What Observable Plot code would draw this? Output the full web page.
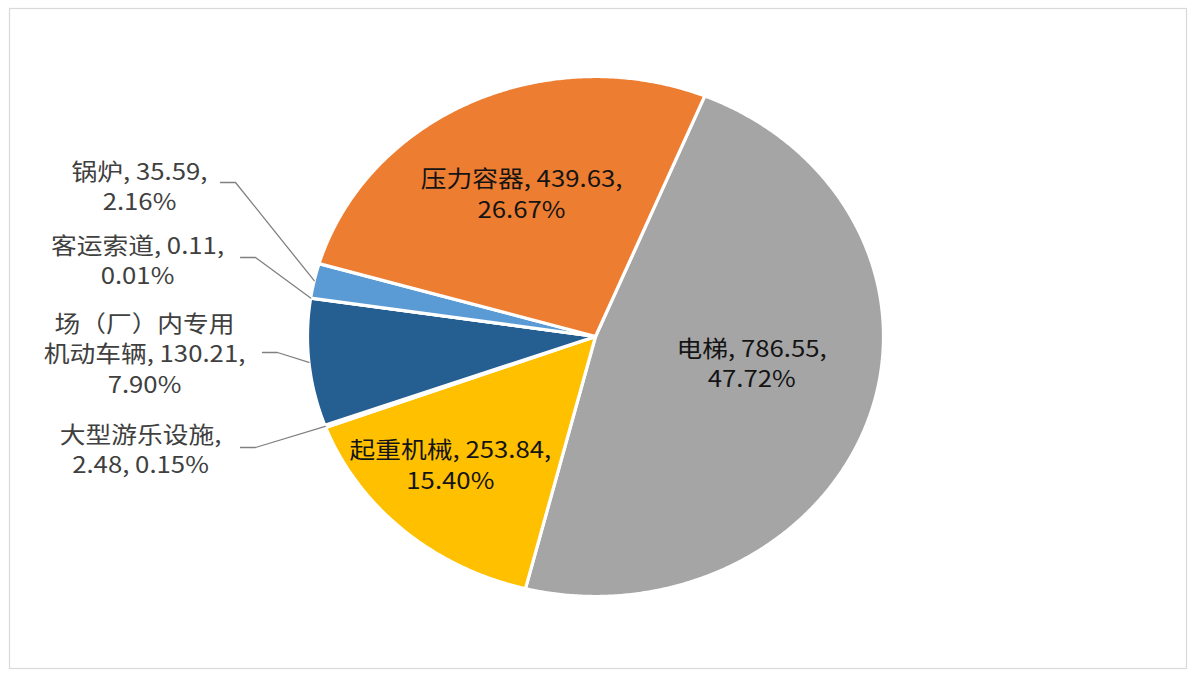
<!DOCTYPE html>
<html>
<head>
<meta charset="utf-8">
<script src="https://cdn.jsdelivr.net/npm/d3@7"></script>
<script src="https://cdn.jsdelivr.net/npm/@observablehq/plot@0.6"></script>
<style>
  body { margin: 0; background: #ffffff; }
  #chart { width: 1194px; height: 676px; }
</style>
</head>
<body>
<div id="chart"></div>
<script>
// ---- data ----
const categories = ["电梯", "起重机械", "大型游乐设施", "场（厂）内专用机动车辆", "客运索道", "锅炉", "压力容器"];
const values = [786.55, 253.84, 2.48, 130.21, 0.11, 35.59, 439.63];
const displayNames = ["电梯", "起重机械", "大型游乐设施", "场（厂）内专用\n机动车辆", "客运索道", "锅炉", "压力容器"];
const breakAfter = ["value", "value", "name", "value", "value", "value", "value"];
const sliceColors = ["#A5A5A5", "#FFC000", "#4472C4", "#255E91", "#70AD47", "#5B9BD5", "#ED7D31"];

// ---- layout ----
const W = 1194, H = 676;
const cx = 595, cy = 336, rx = 288, ry = 260;
const startDeg = 22.3;
const insideNudge = [[-8, -23], [-30, 11], null, null, null, null, [1, -3]];
const outsideLayout = [null, null,
  {tx: 140, ty: 448, lx: 240, ly: 447},
  {tx: 144, ty: 352, lx: 262, ly: 352},
  {tx: 137, ty: 259, lx: 240, ly: 257},
  {tx: 139, ty: 185, lx: 220, ly: 182},
  null];

const ux = px => (px - cx) / rx;
const uy = py => (cy - py) / ry;

const total = d3.sum(values);
const fmtV = d3.format(".2f");
const fmtP = d3.format(".2%");

const start = startDeg * Math.PI / 180;
const arcs = d3.pie().sort(null).value(d => d).startAngle(start).endAngle(start + 2 * Math.PI)(values);

// slice polygons in unit-circle coordinates (scales map them to the ellipse)
const slicePts = [];
arcs.forEach((a, i) => {
  const name = categories[i];
  const n = Math.max(2, Math.ceil((a.endAngle - a.startAngle) / (0.4 * Math.PI / 180)));
  slicePts.push({name, x: 0, y: 0});
  for (let k = 0; k <= n; k++) {
    const t = a.startAngle + (a.endAngle - a.startAngle) * k / n;
    slicePts.push({name, x: Math.sin(t), y: Math.cos(t)});
  }
  slicePts.push({name, x: 0, y: 0});
});

function labelText(i) {
  const v = fmtV(values[i]);
  const p = fmtP(values[i] / total);
  const nm = displayNames[i];
  return breakAfter[i] === "name" ? `${nm},\n${v}, ${p}` : `${nm}, ${v},\n${p}`;
}

const insideLabels = [];
const outsideLabels = [];
const leaders = [];
arcs.forEach((a, i) => {
  const mid = (a.startAngle + a.endAngle) / 2;
  if (insideNudge[i]) {
    const f = 0.6;
    const [dx, dy] = insideNudge[i];
    insideLabels.push({label: labelText(i), x: f * Math.sin(mid) + dx / rx, y: f * Math.cos(mid) - dy / ry});
  } else if (outsideLayout[i]) {
    const L = outsideLayout[i];
    outsideLabels.push({label: labelText(i), x: ux(L.tx), y: uy(L.ty)});
    leaders.push({name: categories[i], x: ux(L.lx), y: uy(L.ly)});
    leaders.push({name: categories[i], x: ux(L.lx + 15), y: uy(L.ly)});
    leaders.push({name: categories[i], x: Math.sin(mid), y: Math.cos(mid)});
  }
});

const font = "'Noto Sans CJK SC', 'Noto Sans', sans-serif";

const chart = Plot.plot({
  width: W,
  height: H,
  margin: 0,
  style: {background: "#ffffff", fontFamily: font},
  x: {domain: [-1, 1], range: [cx - rx, cx + rx], axis: null},
  y: {domain: [-1, 1], range: [cy + ry, cy - ry], axis: null},
  color: {domain: categories, range: sliceColors},
  marks: [
    Plot.frame({stroke: "#d9d9d9", strokeWidth: 1.2, insetLeft: 9, insetTop: 8, insetRight: 8, insetBottom: 8}),
    Plot.line(slicePts, {x: "x", y: "y", z: "name", fill: "name", stroke: "#ffffff", strokeWidth: 3.2, strokeLinejoin: "round", curve: "linear"}),
    Plot.line(leaders, {x: "x", y: "y", z: "name", stroke: "#808080", strokeWidth: 1.3, curve: "linear"}),
    Plot.text(insideLabels, {x: "x", y: "y", text: "label", fill: "#141414", fontSize: 23, lineHeight: 1.32, fontFamily: font}),
    Plot.text(outsideLabels, {x: "x", y: "y", text: "label", fill: "#404040", fontSize: 23, lineHeight: 1.32, fontFamily: font})
  ]
});

// slight horizontal stretch of the labels, as in the reference picture
chart.querySelectorAll("text").forEach(t => {
  const tr = t.getAttribute("transform");
  if (tr) {
    t.setAttribute("transform", tr + " scale(1.12,1)");
  } else {
    const x = +(t.getAttribute("x") || 0);
    t.setAttribute("transform", `translate(${x},0) scale(1.12,1) translate(${-x},0)`);
  }
});

document.getElementById("chart").appendChild(chart);
</script>
</body>
</html>
